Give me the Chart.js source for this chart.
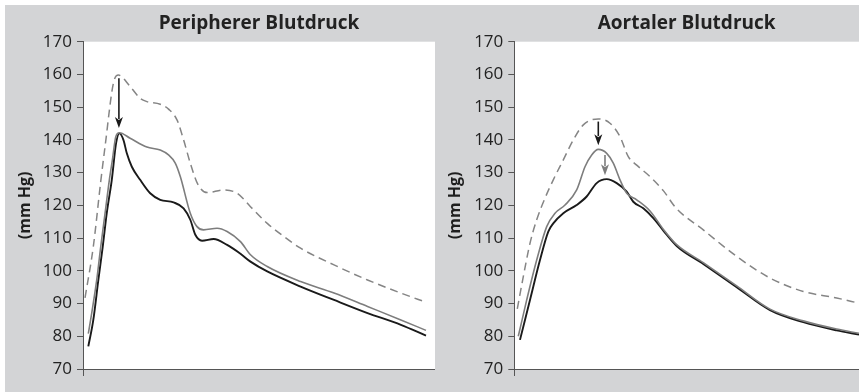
<!DOCTYPE html>
<html>
<head>
<meta charset="utf-8">
<script src="https://cdn.jsdelivr.net/npm/chart.js@4.4.0/dist/chart.umd.min.js"></script>
<style>
  html, body { margin: 0; padding: 0; background: #ffffff; }
  body { width: 859px; height: 392px; position: relative; overflow: hidden; }
  #panel { position: absolute; left: 5px; top: 5px; width: 854px; height: 387px; background: #d3d4d6; }
  #c1 { position: absolute; left: 5px; top: 5px; }
  #c2 { position: absolute; left: 435px; top: 5px; }
</style>
</head>
<body>
<div id="panel"></div>
<canvas id="c1" width="430" height="387"></canvas>
<canvas id="c2" width="424" height="387"></canvas>
<script>
// ---- Titles and tick labels ----
const titleLeft = 'Peripherer Blutdruck';
const titleRight = 'Aortaler Blutdruck';
const yAxisTitle = '(mm Hg)';
const yMin = 70, yMax = 170, yStep = 10;

// ---- Peripherer Blutdruck (left) ----
const periDashedX = [0.57, 2.93, 5.04, 6.27, 8.63, 10.06, 13.39, 16.24, 18.15, 21.94, 24.3, 26.7, 28.58, 30.48, 32.6, 35.24, 39.97, 43.79, 47.58, 52.34, 57.07, 61.82, 71.31, 80.83, 90.31, 97.44];
const periDashedY = [91.7, 107.4, 127.3, 138, 157.3, 159.8, 156.3, 152.7, 151.7, 150.9, 149.4, 146.1, 140, 132.9, 126.5, 123.9, 124.7, 123.7, 119.6, 114.5, 110.5, 106.9, 101.8, 97.2, 93.2, 90.4];

const periGreyX = [1.51, 2.48, 3.9, 5.04, 6.27, 7.49, 8.35, 9.32, 10.34, 13.39, 18.15, 21.94, 24.3, 26.21, 27.64, 30.48, 32.39, 34.27, 38.09, 40.94, 44.73, 47.58, 52.34, 61.82, 71.31, 80.83, 90.31, 97.44];
const periGreyY = [80.8, 87.1, 97.2, 107.4, 117.6, 127.8, 133.9, 141, 142.2, 140.5, 137.8, 136.9, 135.4, 132.9, 128.8, 117.6, 113.5, 112.5, 113, 112, 108.9, 104.9, 101.3, 96.7, 93.2, 89.1, 85, 81.8];

const periBlackX = [1.51, 2.93, 4.36, 5.61, 6.75, 8.18, 9.4, 10.34, 11.48, 12.45, 13.87, 16.24, 19.09, 21.94, 25.73, 28.58, 30.48, 31.91, 33.82, 37.12, 40.94, 44.73, 47.58, 52.34, 61.82, 71.31, 80.83, 90.31, 97.44];
const periBlackY = [76.9, 85, 97.2, 107.4, 117.6, 127.8, 139, 142, 140, 135.9, 131.8, 127.8, 123.7, 121.7, 120.9, 119.1, 115.6, 111, 109.2, 109.7, 107.9, 105.2, 102.8, 99.8, 95.2, 91.1, 87.1, 83.5, 80.2];

// ---- Aortaler Blutdruck (right) ----
const aortDashedX = [0.87, 2.61, 4.55, 6.5, 8.91, 11.31, 14.22, 17.12, 20.02, 24.37, 27.76, 30.66, 33.07, 35.51, 39.37, 43.23, 46.9, 54.83, 64.52, 74.18, 83.84, 93.53, 100];
const aortDashedY = [88.4, 98.2, 108.4, 115.6, 122.2, 127.8, 133.9, 140, 144.6, 146.4, 145.1, 141, 134.9, 132.3, 128.8, 124.5, 119.2, 112.5, 104.4, 97.8, 93.7, 91.7, 90.1];

const aortGreyX = [1.16, 3.6, 6.5, 9.4, 11.81, 14.71, 18.1, 20.51, 22.45, 24.37, 26.81, 28.72, 30.66, 32.61, 35.51, 39.37, 43.23, 47.11, 54.83, 64.52, 74.18, 83.84, 93.53, 100];
const aortGreyY = [80, 91.1, 103.3, 113.5, 117.6, 120.1, 124.7, 131.8, 135.4, 137.1, 135.9, 132.9, 127.8, 123.7, 121.7, 118.3, 112.7, 108, 102.5, 95.4, 88.3, 84.7, 82.2, 80.9];

const aortBlackX = [1.65, 4.55, 7.45, 9.86, 11.31, 14.22, 18.1, 21, 23.9, 26.81, 29.71, 32.61, 34.52, 37.42, 40.33, 43.23, 47.11, 54.83, 64.52, 74.18, 83.84, 93.53, 100];
const aortBlackY = [78.9, 91.1, 103.3, 112, 114.5, 117.6, 120.1, 122.7, 126.8, 128, 126.8, 124.2, 121.1, 119.1, 116.1, 112.3, 107.6, 102.1, 95, 88, 84.3, 81.8, 80.5];

// ---- Arrows (x, from y, to y) ----
const periArrows = [{ x: 10.2, from: 158.8, to: 143.6, color: '#1a1a1a' }];
const aortArrows = [
  { x: 24.37, from: 145.6, to: 138.4, color: '#1a1a1a' },
  { x: 26.31, from: 135.4, to: 129.2, color: '#7d7d7d' }
];

function pts(xs, ys) { return xs.map((x, i) => ({ x: x, y: ys[i] })); }

const whiteArea = {
  id: 'whiteArea',
  beforeDraw(chart) {
    const { ctx, chartArea: a } = chart;
    ctx.save();
    ctx.fillStyle = '#ffffff';
    ctx.fillRect(a.left, a.top, a.right - a.left, a.bottom - a.top);
    ctx.restore();
  }
};

const arrowPlugin = {
  id: 'arrows',
  afterDatasetsDraw(chart, args, opts) {
    const { ctx, scales: { x, y } } = chart;
    (opts.items || []).forEach(a => {
      const px = x.getPixelForValue(a.x);
      const y0 = y.getPixelForValue(a.from);
      const y1 = y.getPixelForValue(a.to);
      const headH = 11, headW = 4;
      ctx.save();
      ctx.strokeStyle = a.color;
      ctx.fillStyle = a.color;
      ctx.lineWidth = 1.6;
      ctx.beginPath();
      ctx.moveTo(px, y0);
      ctx.lineTo(px, y1 - headH + 2);
      ctx.stroke();
      ctx.beginPath();
      ctx.moveTo(px, y1);
      ctx.lineTo(px - headW, y1 - headH);
      ctx.lineTo(px, y1 - headH + 3);
      ctx.lineTo(px + headW, y1 - headH);
      ctx.closePath();
      ctx.fill();
      ctx.restore();
    });
  }
};

function makeChart(id, title, dashed, grey, black, arrows, yWidth, xTicks) {
  return new Chart(document.getElementById(id), {
    type: 'line',
    data: {
      datasets: [
        { data: dashed, borderColor: '#858585', borderWidth: 1.5, borderDash: [8, 5] },
        { data: grey, borderColor: '#7d7d7d', borderWidth: 1.6 },
        { data: black, borderColor: '#1a1a1a', borderWidth: 1.9 }
      ]
    },
    options: {
      responsive: false,
      animation: false,
      devicePixelRatio: 1,
      layout: { padding: 0 },
      elements: {
        point: { radius: 0 },
        line: { cubicInterpolationMode: 'monotone', fill: false }
      },
      plugins: {
        legend: { display: false },
        tooltip: { enabled: false },
        title: {
          display: true, text: title, color: '#222222', fullSize: false,
          font: { family: 'Open Sans', weight: 'bold', size: 19, lineHeight: 1.2 },
          padding: { top: 7, bottom: 6.9 }
        },
        arrows: { items: arrows }
      },
      scales: {
        x: {
          type: 'linear', min: 0, max: 100,
          afterBuildTicks: s => { s.ticks = xTicks.map(v => ({ value: v })); },
          ticks: { display: false },
          grid: { drawOnChartArea: false, tickLength: 7, color: '#555555', lineWidth: 1 },
          border: { color: '#555555', width: 1 },
          afterFit: s => { s.height = 23; }
        },
        y: {
          min: yMin, max: yMax,
          ticks: { stepSize: yStep, color: '#222222', padding: 5, font: { family: 'Open Sans', size: 17 } },
          grid: { drawOnChartArea: false, tickLength: 6, color: '#555555', lineWidth: 1 },
          border: { color: '#555555', width: 1 },
          title: {
            display: true, text: yAxisTitle, color: '#1e1e1e',
            font: { family: 'Open Sans', weight: 'bold', size: 16, lineHeight: 1.2 },
            padding: { top: 10.4, bottom: 0 }
          },
          afterFit: s => { s.width = yWidth; }
        }
      }
    },
    plugins: [whiteArea, arrowPlugin]
  });
}

makeChart('c1', titleLeft, pts(periDashedX, periDashedY), pts(periGreyX, periGreyY), pts(periBlackX, periBlackY), periArrows, 78, [0, 100]);
makeChart('c2', titleRight, pts(aortDashedX, aortDashedY), pts(aortGreyX, aortGreyY), pts(aortBlackX, aortBlackY), aortArrows, 79.3, [0]);
</script>
</body>
</html>
